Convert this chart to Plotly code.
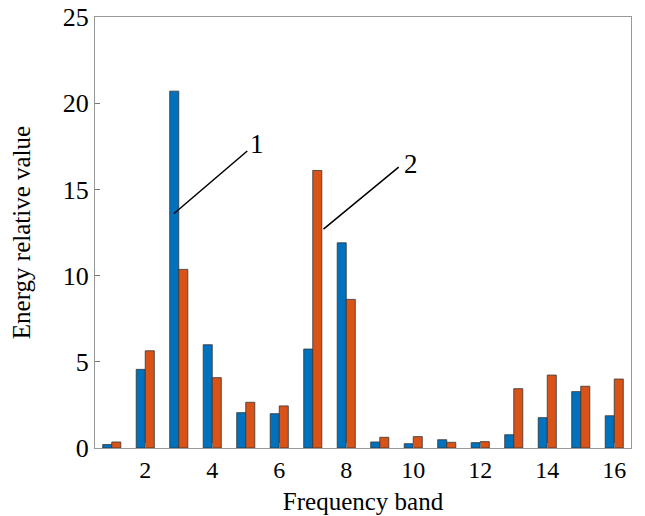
import plotly.graph_objects as go

bands = list(range(1, 17))
series1 = [0.2, 4.56, 20.7, 5.99, 2.05, 1.99, 5.74, 11.9, 0.35, 0.25, 0.48, 0.31, 0.77, 1.76, 3.27, 1.87]
series2 = [0.35, 5.64, 10.36, 4.08, 2.65, 2.44, 16.1, 8.62, 0.62, 0.66, 0.33, 0.37, 3.44, 4.23, 3.58, 4.0]
x_ticks = [2, 4, 6, 8, 10, 12, 14, 16]
y_ticks = [0, 5, 10, 15, 20, 25]

font = "Liberation Serif"

fig = go.Figure()
fig.add_trace(go.Bar(x=bands, y=series1, marker=dict(color="#0072BD", line=dict(color="#333333", width=0.8)), name="1"))
fig.add_trace(go.Bar(x=bands, y=series2, marker=dict(color="#D95319", line=dict(color="#333333", width=0.8)), name="2"))

fig.add_annotation(x=2.86, y=13.6, ax=5.09, ay=17.3, axref="x", ayref="y", xref="x", yref="y",
                   text="", showarrow=True, arrowhead=0, arrowwidth=1.5, arrowcolor="black", standoff=0, startstandoff=0)
fig.add_annotation(x=5.35, y=17.65, text="1", showarrow=False, font=dict(family=font, size=27, color="black"))
fig.add_annotation(x=7.32, y=12.7, ax=9.61, ay=16.36, axref="x", ayref="y", xref="x", yref="y",
                   text="", showarrow=True, arrowhead=0, arrowwidth=1.5, arrowcolor="black", standoff=0, startstandoff=0)
fig.add_annotation(x=9.92, y=16.45, text="2", showarrow=False, font=dict(family=font, size=27, color="black"))

fig.update_layout(
    width=645, height=516,
    margin=dict(l=95, r=14, t=17, b=68),
    paper_bgcolor="white", plot_bgcolor="white",
    showlegend=False,
    barmode="group", bargap=0.46, bargroupgap=0.0,
    font=dict(family=font, size=21, color="black"),
    xaxis=dict(range=[0.5, 16.5], tickvals=x_ticks, ticks="inside", ticklen=5, tickcolor="#777",
               showline=True, linecolor="#999", linewidth=1.2, mirror=True, showgrid=False, zeroline=False,
               automargin=False,
               title=dict(text="Frequency band", font=dict(family=font, size=25), standoff=10),
               tickfont=dict(family=font, size=24)),
    yaxis=dict(range=[0, 25], tickvals=y_ticks, ticks="inside", ticklen=5, tickcolor="#777",
               showline=True, linecolor="#999", linewidth=1.2, mirror=True, showgrid=False, zeroline=False,
               automargin=False,
               title=dict(text="Energy relative value", font=dict(family=font, size=25), standoff=24),
               tickfont=dict(family=font, size=26)),
)

fig.write_html("out.html")
